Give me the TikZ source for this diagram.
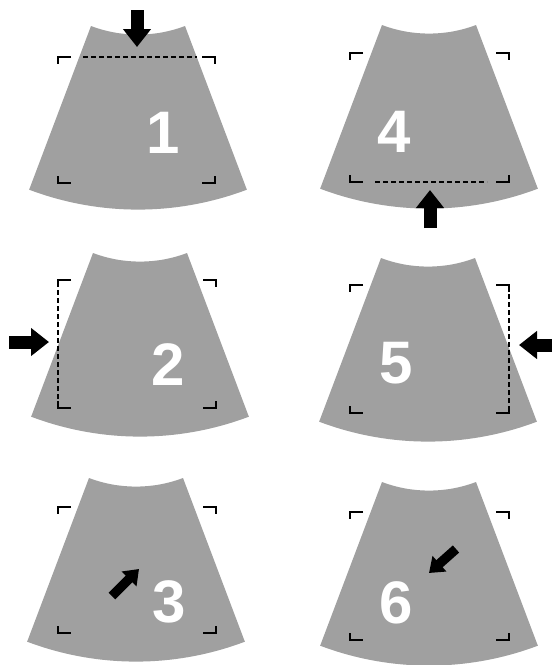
\documentclass[tikz,border=0pt]{standalone}
\usepackage{fontspec}
\newfontfamily\digitfont{Liberation Sans}
\usetikzlibrary{arrows.meta}
\definecolor{fangray}{RGB}{160,160,160}

% sector of an annulus: #1 = centre x, #2 = top y
\newcommand{\fan}[2]{%
  \begin{scope}[shift={(#1,124.4-#2)}]
    \fill[fangray] (249.3:133) arc[start angle=249.3, end angle=290.7, radius=133]
      -- (290.7:308) arc[start angle=290.7, end angle=249.3, radius=308] -- cycle;
  \end{scope}}

% four corner marks: #1,#2 = top left, #3,#4 = bottom right
\newcommand{\corners}[4]{%
  \draw[cornerline] (#1+13,-#2) -- (#1,-#2) -- (#1,-#2-7);
  \draw[cornerline] (#3-13,-#2) -- (#3,-#2) -- (#3,-#2-7);
  \draw[cornerline] (#1,-#4+7) -- (#1,-#4) -- (#1+13,-#4);
  \draw[cornerline] (#3-13,-#4) -- (#3,-#4) -- (#3,-#4+7);}

\begin{document}
\begin{tikzpicture}[x=1pt, y=1pt]
  \tikzset{cornerline/.style={line width=2pt, black},
           scanline/.style={line width=1.9pt, black, dash pattern=on 5pt off 3pt},
           bigarrow/.style={line width=13pt, -{Triangle[width=27pt,length=18pt]}},
           smallarrow/.style={line width=9.5pt, -{Triangle[width=20pt,length=14pt]}},
           digit/.style={text=white, inner sep=0pt, font=\digitfont\bfseries\fontsize{60}{60}\selectfont}}
  \useasboundingbox (0,0) rectangle (552,-665);

  % fans
  \fan{138}{26}
  \fan{140}{253}
  \fan{136}{478}
  \fan{429}{25}
  \fan{428}{258}
  \fan{429}{482}

  % corner marks
  \corners{58}{57}{215}{183}
  \corners{58}{280}{216}{408}
  \corners{58}{507}{216}{633}
  \corners{350}{53}{509}{182}
  \corners{350}{285}{509}{413}
  \corners{350}{512}{509}{640}

  % dashed edges
  \draw[scanline] (83,-57) -- (197,-57);
  \draw[scanline] (58,-290) -- (58,-402);
  \draw[scanline] (375,-182) -- (487,-182);
  \draw[scanline] (509,-294) -- (509,-406);

  % numbers
  \node[digit] (n1) at (163,-132.5) {1};
  \node[digit] (n2) at (168,-365) {2};
  \node[digit] (n3) at (169,-602) {3};
  \node[digit] (n4) at (394,-132) {4};
  \node[digit] (n5) at (396,-363) {5};
  \node[digit] (n6) at (396,-603) {6};

  % arrows
  \coordinate (a1) at (137,-10);  \coordinate (b1) at (137,-47);
  \coordinate (a2) at (9,-342);   \coordinate (b2) at (49,-342);
  \coordinate (a3) at (112,-596); \coordinate (b3) at (139,-569);
  \coordinate (a4) at (430,-228); \coordinate (b4) at (430,-190);
  \coordinate (a5) at (560,-345); \coordinate (b5) at (519,-345);
  \coordinate (a6) at (456,-549); \coordinate (b6) at (429,-573);
  \draw[bigarrow] (a1) -- (b1);
  \draw[bigarrow] (a2) -- (b2);
  \draw[smallarrow] (a3) -- (b3);
  \draw[bigarrow] (a4) -- (b4);
  \draw[bigarrow] (a5) -- (b5);
  \draw[smallarrow] (a6) -- (b6);
\end{tikzpicture}
\end{document}
